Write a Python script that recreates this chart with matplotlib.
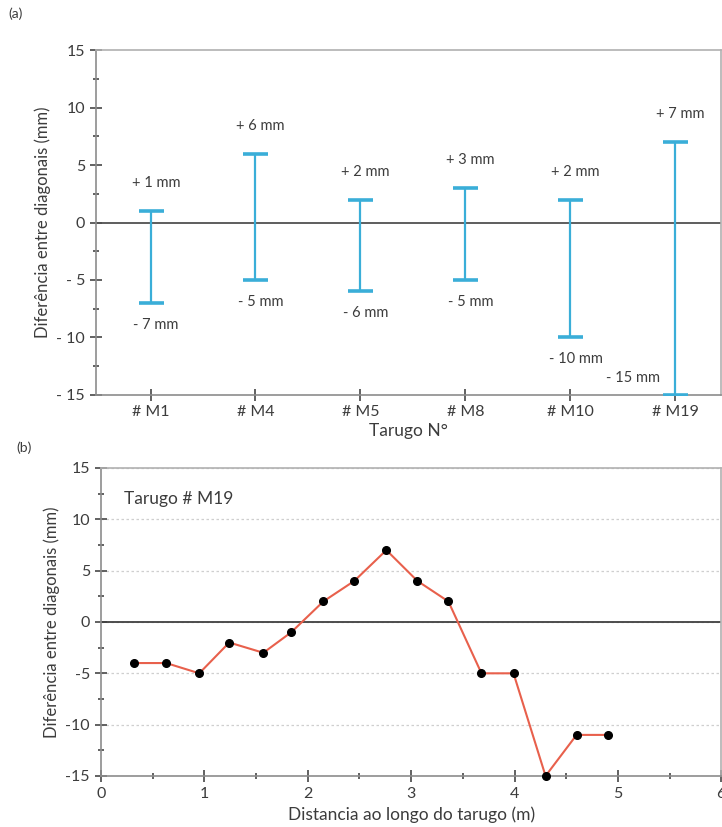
import matplotlib
matplotlib.use('agg')
import matplotlib.pyplot as plt
from matplotlib.ticker import MultipleLocator
import numpy as np

plt.rcParams['font.family'] = ['Lato', 'DejaVu Sans']
plt.rcParams['axes.unicode_minus'] = False

# (a) range of diagonal differences per billet
billets = ['# M1', '# M4', '# M5', '# M8', '# M10', '# M19']
diff_max = [1, 6, 2, 3, 2, 7]
diff_min = [-7, -5, -6, -5, -10, -15]

# (b) diagonal difference along billet M19
dist_m = [0.32, 0.63, 0.95, 1.24, 1.57, 1.84, 2.15, 2.45, 2.76, 3.06,
          3.36, 3.68, 3.99, 4.30, 4.60, 4.90]
diff_m19 = [-4, -4, -5, -2, -3, -1, 2, 4, 7, 4, 2, -5, -5, -15, -11, -11]

spine_col = '#8c8c8c'
text_col = '#3c3c3c'
blue = '#3aaed8'

fig = plt.figure(figsize=(7.22, 8.27), dpi=100)

# ---- panel (a)
ax1 = fig.add_axes([0.133, 0.5224, 0.866, 0.4171])
x = np.arange(1, len(billets) + 1)
lo = np.array(diff_min)
hi = np.array(diff_max)
ax1.errorbar(x, np.zeros(len(x)), yerr=[-lo, hi], fmt='none', ecolor=blue,
             elinewidth=1.6, capsize=9, capthick=2.6, zorder=3)
ax1.axhline(0, color='#505050', lw=1.3, zorder=2)
for xi, h, l in zip(x, hi, lo):
    ax1.text(xi + 0.05, h + 2.4, '+ {} mm'.format(h), ha='center', va='center',
             fontsize=10.5, color=text_col)
    if l <= -15:
        ax1.text(xi - 0.4, l + 1.5, '- {} mm'.format(abs(l)), ha='center',
                 va='center', fontsize=10.5, color=text_col)
    else:
        ax1.text(xi + 0.05, l - 1.9, '- {} mm'.format(abs(l)), ha='center',
                 va='center', fontsize=10.5, color=text_col)

ax1.set_xlim(0.48, 6.44)
ax1.set_ylim(-15, 15)
ax1.set_xticks(x)
ax1.set_xticklabels(billets)
ax1.set_yticks([-15, -10, -5, 0, 5, 10, 15])
ax1.set_yticklabels(['- 15', '- 10', '- 5', '0', '5', '10', '15'])
ax1.yaxis.set_minor_locator(MultipleLocator(2.5))
ax1.set_ylabel('Diferência entre diagonais (mm)', fontsize=12, color=text_col, labelpad=4)
ax1.set_xlabel('Tarugo N°', fontsize=12.5, color=text_col, labelpad=3)

# ---- panel (b)
ax2 = fig.add_axes([0.140, 0.0617, 0.859, 0.3724])
ax2.plot(dist_m, diff_m19, color='#e8604c', lw=1.5, marker='o', ms=5.5,
         mfc='black', mec='black', zorder=4, clip_on=False)
ax2.axhline(0, color='#404040', lw=1.3, zorder=2)
ax2.set_xlim(0, 6)
ax2.set_ylim(-15, 15)
ax2.set_xticks([0, 1, 2, 3, 4, 5, 6])
ax2.xaxis.set_minor_locator(MultipleLocator(0.5))
ax2.set_yticks([-15, -10, -5, 0, 5, 10, 15])
ax2.yaxis.set_minor_locator(MultipleLocator(2.5))
ax2.yaxis.grid(True, linestyle=(0, (2, 2)), color='#cfcfcf', lw=0.9)
ax2.set_axisbelow(True)
ax2.text(0.22, 12, 'Tarugo # M19', fontsize=12.5, color=text_col, va='center')
ax2.set_ylabel('Diferência entre diagonais (mm)', fontsize=12, color=text_col, labelpad=4)
ax2.set_xlabel('Distancia ao longo do tarugo (m)', fontsize=12.5, color=text_col, labelpad=4)

for ax in (ax1, ax2):
    for s in ax.spines.values():
        s.set_color(spine_col)
        s.set_linewidth(1.2)
    ax.spines['top'].set_color('#b0b0b0')
    ax.spines['right'].set_color('#b0b0b0')
    ax.tick_params(which='major', direction='inout', length=9, width=1.3,
                   color='#555555', labelsize=11.5, labelcolor=text_col)
    ax.tick_params(which='minor', direction='inout', length=4, width=1.3,
                   color='#555555')
ax1.tick_params(axis='x', which='major', length=8, pad=3)
ax2.tick_params(axis='x', which='major', length=8, pad=4)

fig.text(0.012, 0.978, '(a)', fontsize=10, color=text_col)
fig.text(0.022, 0.453, '(b)', fontsize=10, color=text_col)

plt.savefig('out.png', dpi=100)
plt.close()
